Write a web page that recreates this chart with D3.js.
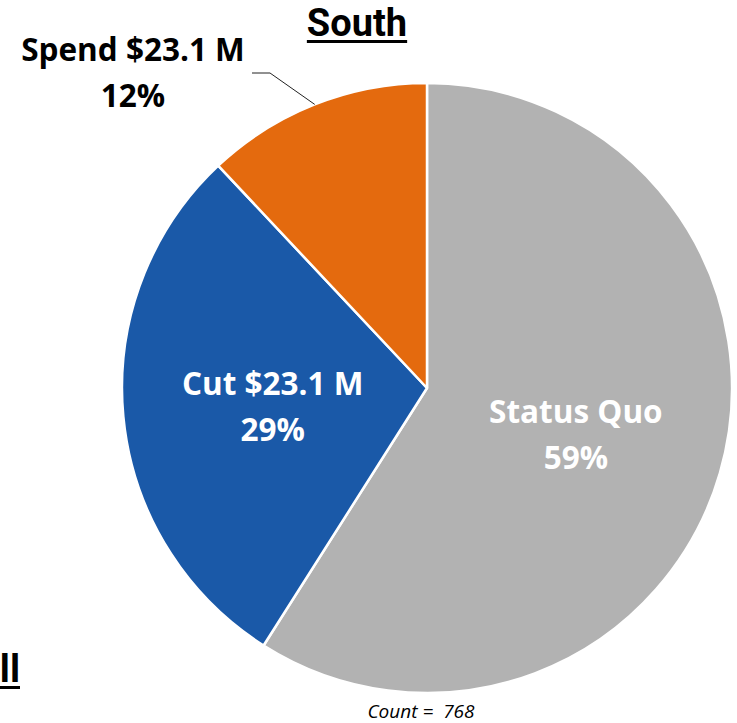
<!DOCTYPE html>
<html lang="en">
<head>
    <meta charset="UTF-8">
    <title>South</title>
    <script src="https://d3js.org/d3.v7.min.js"></script>
    <style>
        body { margin: 0; background: #fff; font-family: "Open Sans", Arial, sans-serif; }
        svg { display: block; }
        .lbl { font-weight: bold; font-size: 31.5px; }
    </style>
</head>
<body>
    <svg width="737" height="723"></svg>
    <script>
        const categories = ["Status Quo", "Cut $23.1 M", "Spend $23.1 M"];
        const shares = [59, 29, 12];
        const sliceColors = ["#b2b2b2", "#1a59a8", "#e46a0e"];
        const labelColors = ["#ffffff", "#ffffff", "#000000"];
        const chartTitle = "South";
        const neighbourTitle = "Overall";
        const responseCount = 768;

        const svg = d3.select("svg");
        const cx = 427, cy = 388, r = 305;

        const data = categories.map((c, i) => ({ name: c, value: shares[i], color: sliceColors[i], text: labelColors[i] }));

        const pie = d3.pie().sort(null).value(d => d.value);
        const arc = d3.arc().innerRadius(0).outerRadius(r);
        const labelArc = d3.arc().innerRadius(155).outerRadius(155);

        const g = svg.append("g").attr("transform", `translate(${cx},${cy})`);
        const arcs = pie(data);

        g.selectAll("path")
            .data(arcs)
            .enter()
            .append("path")
            .attr("d", arc)
            .attr("fill", d => d.data.color)
            .attr("stroke", "#fff")
            .attr("stroke-width", 2.5)
            .attr("stroke-linejoin", "round");

        // labels inside the two big slices
        arcs.slice(0, 2).forEach(d => {
            const [x, y] = labelArc.centroid(d);
            const t = g.append("text")
                .attr("class", "lbl")
                .attr("text-anchor", "middle")
                .attr("fill", d.data.text);
            t.append("tspan").attr("x", x).attr("y", y - 8).text(d.data.name);
            t.append("tspan").attr("x", x).attr("y", y + 38).text(d.data.value + "%");
        });

        // small slice: outside label with leader line
        const small = arcs[2];
        const mid = (small.startAngle + small.endAngle) / 2;
        const edge = [Math.sin(mid) * r, -Math.cos(mid) * r];
        const elbow = [-157, -315];
        g.append("polyline")
            .attr("points", [edge, elbow, [elbow[0] - 18, elbow[1]]].map(p => p.join(",")).join(" "))
            .attr("fill", "none")
            .attr("stroke", "#222")
            .attr("stroke-width", 1);
        const st = g.append("text")
            .attr("class", "lbl")
            .attr("text-anchor", "middle")
            .attr("fill", small.data.text);
        st.append("tspan").attr("x", -294).attr("y", -327).text(small.data.name);
        st.append("tspan").attr("x", -294).attr("y", -281).text(small.data.value + "%");

        // titles (underlined)
        function underlined(x, y, str, anchor) {
            const t = svg.append("text")
                .attr("x", x).attr("y", y)
                .attr("text-anchor", anchor)
                .attr("font-family", "Roboto, 'Open Sans', sans-serif")
                .attr("font-weight", "bold")
                .attr("font-size", 38)
                .text(str);
            const w = t.node().getComputedTextLength();
            const x0 = anchor === "middle" ? x - w / 2 : anchor === "end" ? x - w : x;
            svg.append("rect")
                .attr("x", x0).attr("y", y + 4)
                .attr("width", w).attr("height", 3)
                .attr("fill", "#000");
        }
        underlined(357, 36, chartTitle, "middle");
        underlined(20, 682, neighbourTitle, "end");

        svg.append("text")
            .attr("x", 421).attr("y", 718)
            .attr("text-anchor", "middle")
            .attr("font-style", "italic")
            .attr("font-size", 19)
            .attr("xml:space", "preserve")
            .text(`Count =  ${responseCount}`);
    </script>
</body>
</html>
